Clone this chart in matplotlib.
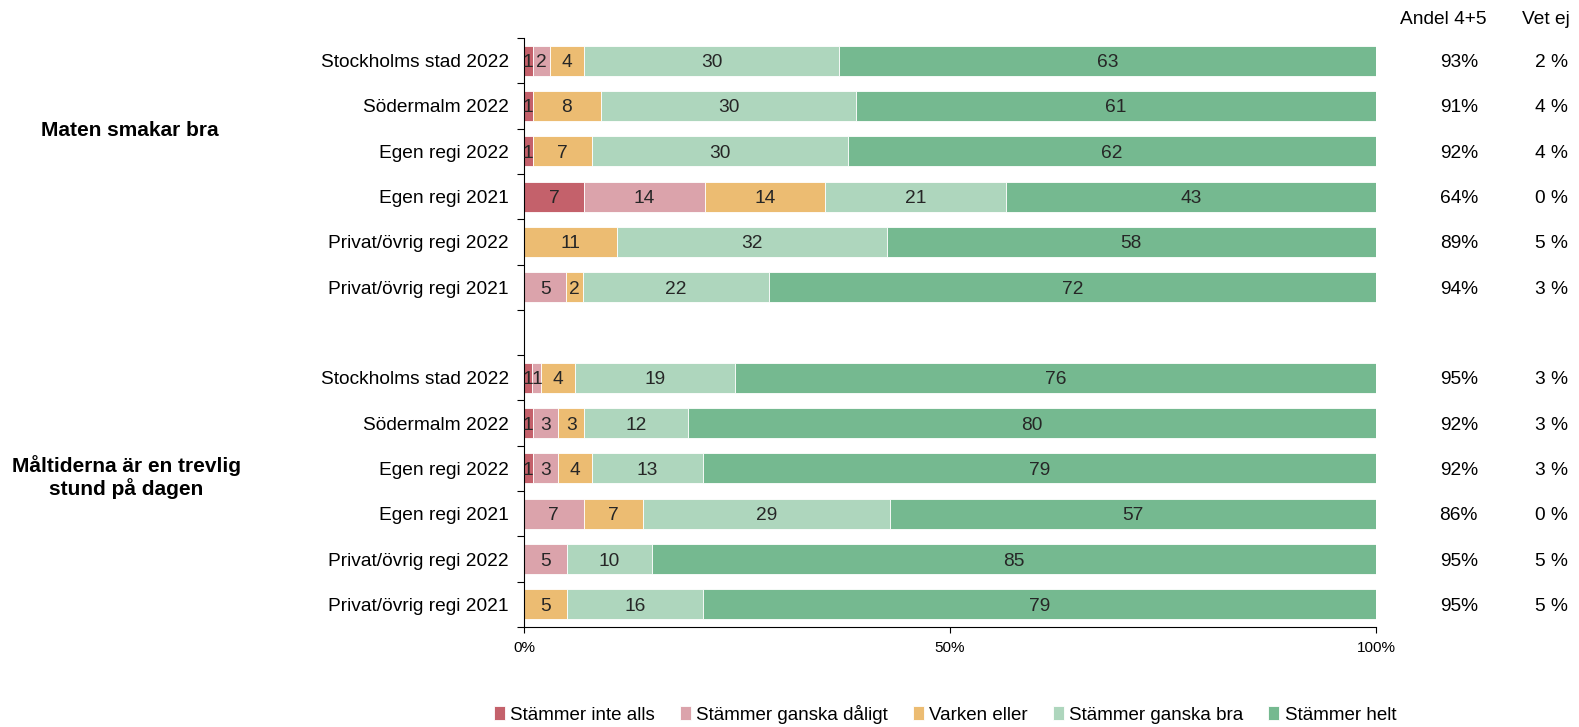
import numpy as np
import matplotlib
matplotlib.use("Agg")
import matplotlib.pyplot as plt
import matplotlib.transforms as mtransforms

plt.rcParams['font.family'] = ['Liberation Sans', 'DejaVu Sans']

# Data (top to bottom, "" = blank spacer row)
categories = ["Stockholms stad 2022", "Södermalm 2022", "Egen regi 2022", "Egen regi 2021",
              "Privat/övrig regi 2022", "Privat/övrig regi 2021", "",
              "Stockholms stad 2022", "Södermalm 2022", "Egen regi 2022", "Egen regi 2021",
              "Privat/övrig regi 2022", "Privat/övrig regi 2021"]
series = ["Stämmer inte alls", "Stämmer ganska dåligt", "Varken eller",
          "Stämmer ganska bra", "Stämmer helt"]
inte_alls = [1, 1, 1, 7, 0, 0, 0, 1, 1, 1, 0, 0, 0]
ganska_daligt = [2, 0, 0, 14, 0, 5, 0, 1, 3, 3, 7, 5, 0]
varken = [4, 8, 7, 14, 11, 2, 0, 4, 3, 4, 7, 0, 5]
ganska_bra = [30, 30, 30, 21, 32, 22, 0, 19, 12, 13, 29, 10, 16]
helt = [63, 61, 62, 43, 58, 72, 0, 76, 80, 79, 57, 85, 79]
andel = ["93%", "91%", "92%", "64%", "89%", "94%", "", "95%", "92%", "92%", "86%", "95%", "95%"]
vet_ej = ["2 %", "4 %", "4 %", "0 %", "5 %", "3 %", "", "3 %", "3 %", "3 %", "0 %", "5 %", "5 %"]
groups = ["Maten smakar bra", "Måltiderna är en trevlig\nstund på dagen"]

colors = ["#C4616B", "#DBA3AB", "#ECBC72", "#AED6BD", "#75B990"]
fs = 13.8

vals = np.array([inte_alls, ganska_daligt, varken, ganska_bra, helt], dtype=float)
tot = vals.sum(axis=0)
tot[tot == 0] = 1
widths = vals / tot * 100  # bars fill 100 %

fig = plt.figure(figsize=(15.79, 7.27), dpi=100)
ax = fig.add_axes([524 / 1579, 1 - 627 / 727, 852 / 1579, 589 / 727])

y = np.arange(len(categories))
left = np.zeros(len(categories))
for i in range(len(series)):
    ax.barh(y, widths[i], left=left, height=0.66, color=colors[i],
            edgecolor="white", linewidth=0.6, label=series[i])
    for j in range(len(categories)):
        if vals[i, j] > 0:
            ax.text(left[j] + widths[i, j] / 2, y[j], "%d" % vals[i, j],
                    ha="center", va="center_baseline", fontsize=fs, color="#262626")
    left += widths[i]

ax.set_ylim(len(categories) - 0.5, -0.5)
ax.set_xlim(0, 100)
ax.set_yticks(np.arange(-0.5, len(categories), 1))
ax.set_yticklabels([])
ax.set_yticks(y, minor=True)
ax.set_yticklabels(categories, minor=True, fontsize=fs, va="center_baseline")
ax.tick_params(axis="y", which="minor", length=0, pad=11)
ax.tick_params(axis="y", which="major", length=5, direction="out")
ax.set_xticks([0, 50, 100])
ax.set_xticklabels(["0%", "50%", "100%"], fontsize=11)
ax.tick_params(axis="x", length=4, pad=6)
for s in ["top", "right"]:
    ax.spines[s].set_visible(False)

# right-hand columns
trans = mtransforms.blended_transform_factory(fig.transFigure, ax.transData)
for j in range(len(categories)):
    ax.text(1478 / 1579, y[j], andel[j], ha="right", va="center_baseline",
            fontsize=fs, transform=trans)
    ax.text(1568 / 1579, y[j], vet_ej[j], ha="right", va="center_baseline",
            fontsize=fs, transform=trans)
fig.text(1443 / 1579, 1 - 20 / 727, "Andel 4+5", ha="center", va="center", fontsize=fs)
fig.text(1546 / 1579, 1 - 20 / 727, "Vet ej", ha="center", va="center", fontsize=fs)

# group labels
fig.text(130 / 1579, 1 - 130 / 727, groups[0], ha="center", va="center",
         fontsize=15, fontweight="bold")
fig.text(126 / 1579, 1 - 477 / 727, groups[1], ha="center", va="center",
         fontsize=15, fontweight="bold", linespacing=1.15)

fig.legend(loc="center", bbox_to_anchor=(945 / 1579, 1 - 714 / 727), ncol=5,
           frameon=False, fontsize=13.5, handlelength=0.6, handleheight=0.7,
           handletextpad=0.3, columnspacing=1.3)

fig.savefig("out.png", dpi=100)
